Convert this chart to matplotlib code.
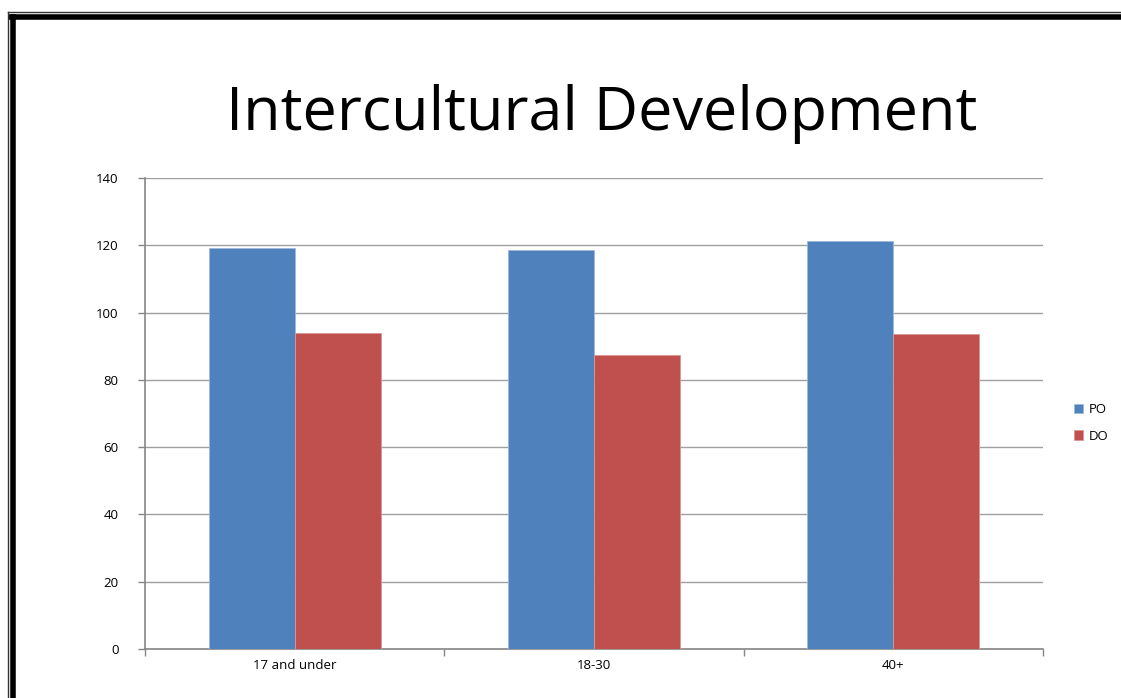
import matplotlib.pyplot as plt
import numpy as np
from matplotlib.lines import Line2D

groups = ["17 and under", "18-30", "40+"]
po_scores = [119.3, 118.6, 121.3]
do_scores = [93.9, 87.4, 93.6]

blue = "#4F81BD"
red = "#C0504D"
fonts = ["Open Sans", "DejaVu Sans"]

fig = plt.figure(figsize=(11.21, 6.98), dpi=100)
W, H = 1121, 698

def px(x0, y0, x1, y1):
    return [x0 / W, 1 - y1 / H, (x1 - x0) / W, (y1 - y0) / H]

ax = fig.add_axes(px(145, 178, 1043, 649))

x = np.arange(len(groups)) + 0.5
bw = 0.2875
ax.bar(x - bw / 2, po_scores, bw, color=blue, edgecolor="#9DB8DC", linewidth=0.6, label="PO", zorder=3)
ax.bar(x + bw / 2, do_scores, bw, color=red, edgecolor="#D99694", linewidth=0.6, label="DO", zorder=3)

ax.set_xlim(0, 3)
ax.set_ylim(0, 140)
ax.set_yticks(range(0, 141, 20))
ax.set_xticks(x)
ax.set_xticklabels(groups)
ax.set_xticks([0, 1, 2, 3], minor=True)
ax.tick_params(axis="x", which="major", length=0, pad=7)
ax.tick_params(axis="x", which="minor", length=5, color="#868686", width=1)
ax.tick_params(axis="y", length=5, color="#868686", width=1, pad=14)
ax.tick_params(labelsize=9.5)
for lab in ax.get_xticklabels() + ax.get_yticklabels():
    lab.set_family(fonts)

ax.grid(axis="y", color="#A0A0A0", linewidth=1, zorder=0)
for s in ["top", "right"]:
    ax.spines[s].set_visible(False)
for s in ["left", "bottom"]:
    ax.spines[s].set_color("#868686")
    ax.spines[s].set_linewidth(1.2)

fig.text(602 / W, 1 - 130 / H, "Intercultural Development", fontsize=44,
         family=fonts, ha="center", va="baseline")

fig.legend(loc="center left", bbox_to_anchor=(1062 / W, 1 - 423 / H),
           frameon=False, handlelength=0.7, handleheight=0.7,
           handletextpad=0.4, labelspacing=1.0,
           prop={"family": fonts, "size": 9.5})

# double frame along the top and left edges
for line in [
    Line2D([8 / W, 1], [1 - 12 / H] * 2, color="#333333", lw=1),
    Line2D([11 / W, 1], [1 - 16.5 / H] * 2, color="black", lw=4),
    Line2D([8 / W] * 2, [0, 1 - 12 / H], color="#333333", lw=1),
    Line2D([12.5 / W] * 2, [0, 1 - 16.5 / H], color="black", lw=4),
]:
    fig.add_artist(line)

fig.savefig("out.png", dpi=100)
